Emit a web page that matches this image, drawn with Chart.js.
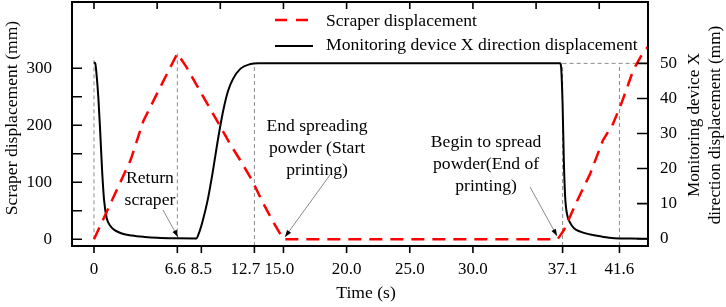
<!DOCTYPE html>
<html>
<head>
<meta charset="utf-8">
<script src="https://cdn.jsdelivr.net/npm/chart.js@4.4.1/dist/chart.umd.min.js"></script>
<style>
  html, body { margin: 0; padding: 0; background: #fff; }
  #wrap { width: 726px; height: 307px; position: relative; }
</style>
</head>
<body>
<div id="wrap"><canvas id="grafico"></canvas></div>
<script>
// valores
const scraperTime = [0, 1.5, 2.9, 3.9, 5.0, 6.0, 6.6, 7.3, 8.5, 10.0, 10.8, 11.6, 12.5, 13.4, 14.2, 15.0, 36.7, 37.2, 38.2, 39.3, 40.3, 41.1, 41.8, 42.7, 43.5, 44.3];
const scraperDisp = [0, 72, 139, 207, 256, 300, 326, 303, 256, 198, 166, 138, 104, 63, 30, 0, 0, 16, 65, 116, 174, 203, 241, 297, 329, 348];

const monitorTime = [0, 0.1, 0.2, 0.35, 0.5, 0.65, 0.8, 1.0, 1.3, 1.7, 2.2, 3.0, 4.0, 5.0, 6.6, 8.1, 8.3, 8.6, 9.0, 9.4, 9.8, 10.2, 10.6, 11.0, 11.6, 12.4, 13.0, 20.0, 30.0, 36.9, 37.0, 37.1, 37.2, 37.3, 37.45, 37.7, 38.0, 38.5, 39.3, 40.2, 41.2, 42.5, 43.9];
const monitorDisp = [50.3, 50, 47, 40, 30, 19, 11, 6, 3.6, 2.3, 1.5, 0.9, 0.5, 0.25, 0.1, 0.05, 1.5, 5, 11, 19, 28, 36, 42, 45.5, 48.5, 49.8, 50, 50, 50, 50, 48, 38, 22, 12, 7, 4.5, 3, 2, 1.2, 0.6, 0.15, 0.05, 0];

const timeTicks = [0, 6.6, 8.5, 12.7, 15, 20, 25, 30, 37.1, 41.6];
const timeTickLabels = ['0', '6.6', '8.5', '12.7', '15.0', '20.0', '25.0', '30.0', '37.1', '41.6'];
const topTicks = [0, 5, 10, 15, 20, 25, 30, 35, 40];
const scraperTicks = [0, 100, 200, 300];
const scraperMinorTicks = [50, 150, 250];
const monitorTicks = [0, 10, 20, 30, 40, 50];

// linhas tracejadas de referência (tempo, eixo, de, até)
const guides = [
  {t: 0, axis: 'y', from: 0, to: 320},
  {t: 6.6, axis: 'y', from: 0, to: 326},
  {t: 12.7, axis: 'y1', from: null, to: 50},
  {t: 37.1, axis: 'y1', from: null, to: 50},
  {t: 41.6, axis: 'y1', from: null, to: 50}
];
const guideLevel = {axis: 'y1', value: 50, from: 37.1};

// anotações com seta (coordenadas em tempo / deslocamento do raspador)
const notes = [
  {t: 4.43, v: 107.5, lines: ['Return', 'scraper'], from: [5.46, 51.4], to: [6.65, 4]},
  {t: 17.66, v: 198.8, lines: ['End spreading', 'powder (Start', 'printing)'], from: [18.68, 112.8], to: [15.12, 4]},
  {t: 31.04, v: 170.7, lines: ['Begin to spread', 'powder(End of', 'printing)'], from: [34.52, 91.8], to: [36.66, 5.8]}
];

const FAMILIA = "'Liberation Serif', 'Times New Roman', serif";
const FONTE = '17.6px ' + FAMILIA;
const FONTE_TICK = '17px ' + FAMILIA;
// rótulos 12.7 / 15.0 ficam deslocados para não se sobreporem (como no original)
const labelNudge = {6.6: -2, 12.7: -9, 15: -4};

function seta(ctx, x0, y0, x1, y1) {
  ctx.strokeStyle = '#8a8a8a';
  ctx.lineWidth = 1;
  ctx.setLineDash([]);
  ctx.beginPath();
  ctx.moveTo(x0, y0);
  ctx.lineTo(x1, y1);
  ctx.stroke();
  const ang = Math.atan2(y1 - y0, x1 - x0);
  ctx.fillStyle = '#000';
  ctx.beginPath();
  ctx.moveTo(x1, y1);
  ctx.lineTo(x1 - 7 * Math.cos(ang) + 2.5 * Math.sin(ang), y1 - 7 * Math.sin(ang) - 2.5 * Math.cos(ang));
  ctx.lineTo(x1 - 7 * Math.cos(ang) - 2.5 * Math.sin(ang), y1 - 7 * Math.sin(ang) + 2.5 * Math.cos(ang));
  ctx.closePath();
  ctx.fill();
}

const extras = {
  id: 'extras',
  beforeDatasetsDraw(chart) {
    const {ctx, chartArea: a, scales} = chart;
    const x = scales.x;
    ctx.save();
    ctx.strokeStyle = '#8c8c8c';
    ctx.lineWidth = 1;
    ctx.setLineDash([4, 3]);
    guides.forEach(g => {
      const px = x.getPixelForValue(g.t);
      const s = scales[g.axis];
      const yb = g.from === null ? a.bottom : s.getPixelForValue(g.from);
      ctx.beginPath();
      ctx.moveTo(px, yb);
      ctx.lineTo(px, s.getPixelForValue(g.to));
      ctx.stroke();
    });
    const py = scales[guideLevel.axis].getPixelForValue(guideLevel.value);
    ctx.beginPath();
    ctx.moveTo(x.getPixelForValue(guideLevel.from), py);
    ctx.lineTo(a.right, py);
    ctx.stroke();
    ctx.restore();
  },
  afterDraw(chart) {
    const {ctx, chartArea: a, scales: {x, y, y1}} = chart;
    ctx.save();
    ctx.setLineDash([]);
    ctx.strokeStyle = '#000';

    // moldura
    ctx.lineWidth = 2;
    ctx.strokeRect(a.left, a.top, a.right - a.left, a.bottom - a.top);

    // marcas dos eixos
    ctx.lineWidth = 1.6;
    ctx.beginPath();
    scraperTicks.concat(scraperMinorTicks).forEach(v => {
      const p = y.getPixelForValue(v);
      ctx.moveTo(a.left, p); ctx.lineTo(a.left + 10, p);
    });
    monitorTicks.forEach(v => {
      const p = y1.getPixelForValue(v);
      ctx.moveTo(a.right, p); ctx.lineTo(a.right - 11, p);
    });
    timeTicks.forEach(v => {
      const p = x.getPixelForValue(v);
      ctx.moveTo(p, a.bottom); ctx.lineTo(p, a.bottom + 7);
    });
    topTicks.forEach(v => {
      const p = x.getPixelForValue(v);
      ctx.moveTo(p, a.top); ctx.lineTo(p, a.top + 7);
    });
    ctx.stroke();

    // rótulos do eixo do tempo
    ctx.font = FONTE_TICK;
    ctx.fillStyle = '#000';
    ctx.textAlign = 'center';
    ctx.textBaseline = 'middle';
    timeTicks.forEach((v, i) => {
      ctx.fillText(timeTickLabels[i], x.getPixelForValue(v) + (labelNudge[v] || 0), a.bottom + 24);
    });

    // anotações
    ctx.font = FONTE;
    notes.forEach(n => {
      const cx = x.getPixelForValue(n.t);
      const cy = y.getPixelForValue(n.v);
      n.lines.forEach((l, i) => ctx.fillText(l, cx, cy + i * 22));
      seta(ctx, x.getPixelForValue(n.from[0]), y.getPixelForValue(n.from[1]),
        x.getPixelForValue(n.to[0]), y.getPixelForValue(n.to[1]));
    });

    // legenda
    ctx.lineWidth = 2.5;
    ctx.strokeStyle = '#ff0000';
    ctx.setLineDash([12, 9]);
    ctx.beginPath(); ctx.moveTo(275, 20); ctx.lineTo(312, 20); ctx.stroke();
    ctx.setLineDash([]);
    ctx.strokeStyle = '#000';
    ctx.lineWidth = 2;
    ctx.beginPath(); ctx.moveTo(275, 46); ctx.lineTo(313, 46); ctx.stroke();
    ctx.fillStyle = '#000';
    ctx.textAlign = 'left';
    ctx.fillText('Scraper displacement', 326, 21);
    ctx.fillText('Monitoring device X direction displacement', 326, 45);

    // títulos dos eixos
    ctx.textAlign = 'center';
    ctx.fillText('Time (s)', (a.left + a.right) / 2 + 6, 293);
    ctx.save();
    ctx.translate(12, (a.top + a.bottom) / 2 - 6);
    ctx.rotate(-Math.PI / 2);
    ctx.fillText('Scraper displacement (mm)', 0, 0);
    ctx.restore();
    ctx.save();
    ctx.font = '17.2px ' + FAMILIA;
    ctx.translate(694, (a.top + a.bottom) / 2 + 1);
    ctx.rotate(-Math.PI / 2);
    ctx.fillText('Monitoring device X', 0, 0);
    ctx.fillText('direction displacement (mm)', 0, 21);
    ctx.restore();

    ctx.restore();
  }
};

document.addEventListener('DOMContentLoaded', function() {
  Chart.defaults.font.family = FAMILIA;
  Chart.defaults.font.size = 17;
  Chart.defaults.color = '#000';

  const ctx = document.getElementById('grafico');
  new Chart(ctx.getContext('2d'), {
    type: 'line',
    data: {
      datasets: [
        {
          label: 'Scraper displacement',
          data: scraperTime.map((t, i) => ({x: t, y: scraperDisp[i]})),
          yAxisID: 'y',
          borderColor: '#ff0000',
          borderWidth: 2.5,
          borderDash: [13, 8],
          pointRadius: 0,
          tension: 0,
          fill: false
        },
        {
          label: 'Monitoring device X direction displacement',
          data: monitorTime.map((t, i) => ({x: t, y: monitorDisp[i]})),
          yAxisID: 'y1',
          borderColor: '#000',
          borderWidth: 2,
          pointRadius: 0,
          cubicInterpolationMode: 'monotone',
          fill: false
        }
      ]
    },
    options: {
      responsive: true,
      maintainAspectRatio: false,
      animation: false,
      layout: { padding: { top: 2, left: 0, right: 0, bottom: 0 } },
      plugins: {
        legend: { display: false },
        tooltip: { enabled: false }
      },
      scales: {
        x: {
          type: 'linear',
          position: 'bottom',
          min: -1.74,
          max: 43.86,
          grid: { display: false, drawTicks: false },
          border: { display: false },
          afterBuildTicks: s => { s.ticks = timeTicks.map(v => ({value: v})); },
          afterFit: s => { s.height = 61; s.paddingLeft = 0; s.paddingRight = 0; },
          ticks: { display: false, autoSkip: false, maxRotation: 0 }
        },
        y: {
          position: 'left',
          min: -11.75,
          max: 416.3,
          grid: { display: false, drawTicks: false },
          border: { display: false },
          afterBuildTicks: s => { s.ticks = scraperTicks.map(v => ({value: v})); },
          afterFit: s => { s.width = 72; s.paddingTop = 0; s.paddingBottom = 0; },
          ticks: { padding: 20 }
        },
        y1: {
          position: 'right',
          min: -2.08,
          max: 67.5,
          grid: { display: false, drawTicks: false },
          border: { display: false },
          afterBuildTicks: s => { s.ticks = monitorTicks.map(v => ({value: v})); },
          afterFit: s => { s.width = 78; s.paddingTop = 0; s.paddingBottom = 0; },
          ticks: { padding: 12 }
        }
      }
    },
    plugins: [extras]
  });
});
</script>
</body>
</html>
